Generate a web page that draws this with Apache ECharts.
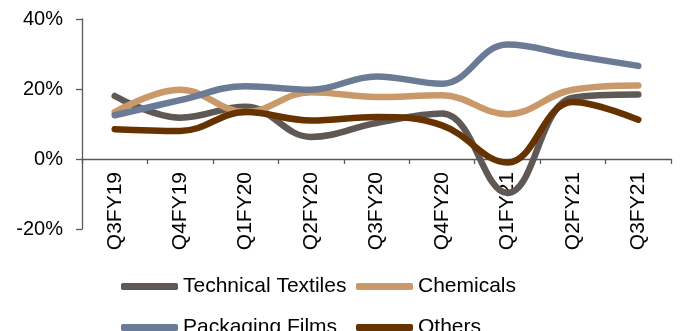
<!DOCTYPE html>
<html>
<head>
<meta charset="utf-8">
<script src="https://cdn.jsdelivr.net/npm/echarts@6/dist/echarts.min.js"></script>
<style>
  html, body { margin: 0; padding: 0; background: #fff; }
  #chart { width: 682px; height: 331px; }
</style>
</head>
<body>
<div id="chart"></div>
<script>
var categories = ["Q3FY19", "Q4FY19", "Q1FY20", "Q2FY20", "Q3FY20", "Q4FY20", "Q1FY21", "Q2FY21", "Q3FY21"];
var technicalTextiles = [18, 11.8, 14.9, 6.3, 10.3, 13, -9.7, 17.5, 18.4];
var chemicals = [13.4, 19.8, 13.4, 19.1, 17.7, 18.2, 12.8, 19.8, 21];
var packagingFilms = [12.5, 16.8, 20.8, 19.8, 23.6, 21.5, 32.7, 29.6, 26.6];
var others = [8.5, 8, 13.4, 11, 12, 9.6, -1, 16.3, 11.2];
var yTicks = { min: -20, max: 40, interval: 20 };

(function () {
  var myChart = echarts.init(document.getElementById("chart"));
  var font = "Liberation Sans, Arial, sans-serif";

  // one legend per slot so the two rows line up like the original
  function legendAt(name, left, top) {
    return {
      data: [name],
      left: left,
      top: top,
      icon: "roundRect",
      itemWidth: 57,
      itemHeight: 7,
      textStyle: { color: "#000", fontSize: 21, fontFamily: font }
    };
  }

  function lineSeries(name, data, color) {
    return {
      name: name,
      type: "line",
      smooth: 0.4,
      symbol: "none",
      color: color,
      lineStyle: { color: color, width: 6.5, cap: "round" },
      data: data
    };
  }

  var gridTop = 19, gridBottom = 102;
  var plotH = 331 - gridTop - gridBottom;
  // labels hang from the 0% line, so the label axis is pulled up
  var zeroOffset = -plotH * (0 - yTicks.min) / (yTicks.max - yTicks.min);

  var option = {
    animation: false,
    grid: {
      left: 82,
      right: 11,
      top: gridTop,
      bottom: gridBottom,
      containLabel: false
    },
    legend: [
      legendAt("Technical Textiles", 116, 271),
      legendAt("Chemicals", 351, 271),
      legendAt("Packaging Films", 116, 312),
      legendAt("Others", 351, 312)
    ],
    xAxis: [
      {
        // line + ticks on zero
        type: "category",
        data: categories,
        axisLine: { show: true, onZero: true, lineStyle: { color: "#595959", width: 1.3 } },
        axisTick: { show: true, length: 5, lineStyle: { color: "#595959", width: 1.3 } },
        axisLabel: { show: false },
        splitLine: { show: false }
      },
      {
        // labels only
        type: "category",
        data: categories,
        position: "bottom",
        offset: zeroOffset,
        axisLine: { show: false, onZero: false },
        axisTick: { show: false },
        axisLabel: {
          rotate: 90,
          margin: 13,
          color: "#000",
          fontSize: 21,
          fontFamily: font
        },
        splitLine: { show: false }
      }
    ],
    yAxis: {
      type: "value",
      min: yTicks.min,
      max: yTicks.max,
      interval: yTicks.interval,
      axisLine: { show: true, lineStyle: { color: "#595959", width: 1.3 } },
      axisTick: { show: true, length: 6, lineStyle: { color: "#595959", width: 1.3 } },
      axisLabel: {
        margin: 19,
        color: "#000",
        fontSize: 20,
        fontFamily: font,
        formatter: "{value}%"
      },
      splitLine: { show: false }
    },
    series: [
      lineSeries("Technical Textiles", technicalTextiles, "#605854"),
      lineSeries("Chemicals", chemicals, "#c9996a"),
      lineSeries("Packaging Films", packagingFilms, "#6b7b95"),
      lineSeries("Others", others, "#663300")
    ]
  };

  myChart.setOption(option);
  window.addEventListener("resize", function () {
    myChart.resize();
  });
})();
</script>
</body>
</html>
